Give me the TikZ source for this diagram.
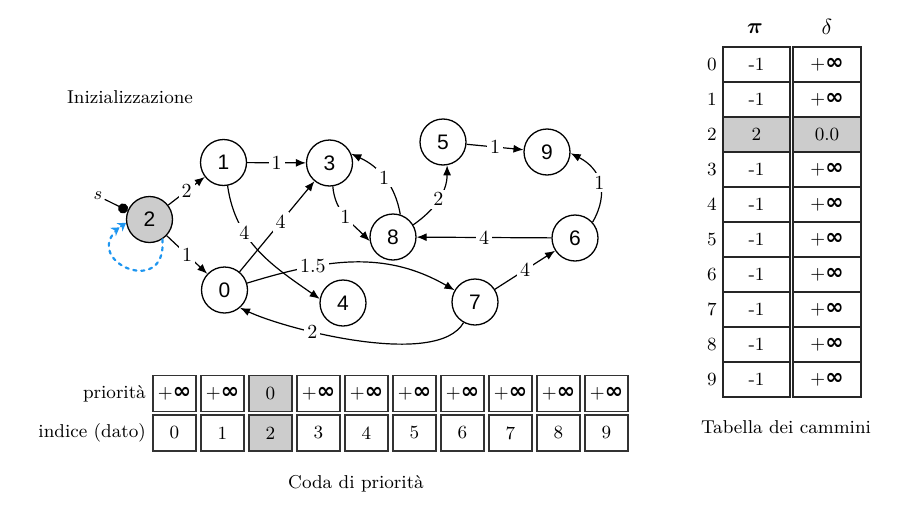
\documentclass[tikz,border=0pt]{standalone}
\usepackage{amsmath}
\usepackage{fontspec}
\newfontfamily\nodefont{Liberation Sans}
\newfontfamily\inffont{DejaVu Sans}
\usetikzlibrary{arrows.meta}
\definecolor{loopblue}{RGB}{30,150,240}
\newcommand{\pinf}{+{\inffont\bfseries\fontsize{11}{11}\selectfont ∞}}

\tikzset{
  every node/.append style={font=\fontsize{9.3}{11}\selectfont},
  vertex/.style={circle, draw, line width=0.65pt, minimum size=23pt, inner sep=0pt, font=\nodefont\fontsize{10.5}{10.5}\selectfont},
  srcvertex/.style={vertex, fill=black!20},
  edge/.style={-{Latex[length=5pt,width=4pt]}, line width=0.6pt},
  wlabel/.style={fill=white, inner sep=1.5pt, font=\fontsize{10}{11}\selectfont},
  qcell/.style={draw=black!80, line width=0.8pt, minimum width=21.5pt, minimum height=18pt, inner sep=0pt},
  tcell/.style={draw=black!85, line width=0.8pt, minimum width=33.5pt, minimum height=17.5pt, inner sep=0pt},
  selfloop/.style={loopblue, line width=1.1pt, dash pattern=on 1.6pt off 2.4pt, line cap=round,
    -{Stealth[length=4pt,width=5pt]Stealth[length=4pt,width=5pt]}}
}

\begin{document}
\begin{tikzpicture}[x=0.5pt,y=0.5pt]
\useasboundingbox (0,0) rectangle (903,521);

\node[anchor=west] (title) at (60,424) {Inizializzazione};

% graph
\node[srcvertex] (n2) at (149.5,301.5) {2};
\node[vertex] (n1) at (223.5,358.5) {1};
\node[vertex] (n3) at (329.5,358) {3};
\node[vertex] (n5) at (443,379) {5};
\node[vertex] (n9) at (547,369) {9};
\node[vertex] (n8) at (393,284) {8};
\node[vertex] (n6) at (575,283) {6};
\node[vertex] (n0) at (224.5,231) {0};
\node[vertex] (n4) at (343,218) {4};
\node[vertex] (n7) at (475,219) {7};

\node[inner sep=1pt] (s) at (98,325) {$s$};
\draw[line width=0.6pt, -{Circle[length=5pt]}] (s) -- (n2.158);
\draw[selfloop] (n2.-57) .. controls +(-85:62) and +(-145:62) .. (n2.-172);

\draw[edge] (n2) -- node[wlabel]{2} (n1);
\draw[edge] (n2) -- node[wlabel]{1} (n0);
\draw[edge] (n1) -- node[wlabel]{1} (n3);
\draw[edge] (n0) -- node[wlabel,pos=0.55]{4} (n3);
\draw[edge] (n1.-80) to[out=-82,in=145] node[wlabel,pos=0.33]{4} (n4.170);
\draw[edge] (n0) to[out=17,in=150] node[wlabel,pos=0.3]{1.5} (n7);
\draw[edge] (n3.-82) to[out=-85,in=135] node[wlabel]{1} (n8.-170);
\draw[edge] (n8.72) to[out=100,in=-25] node[wlabel]{1} (n3.23);
\draw[edge] (n8.31) to[out=35,in=-90] node[wlabel]{2} (n5.-80);
\draw[edge] (n5) -- node[wlabel]{1} (n9);
\draw[edge] (n6.42) to[out=60,in=-27,looseness=1.2] node[wlabel]{1} (n9.-3);
\draw[edge] (n6) -- node[wlabel]{4} (n8);
\draw[edge] (n7) -- node[wlabel]{4} (n6);
\draw[edge] (n7.-119) to[out=-120,in=-25,looseness=0.6] node[wlabel,pos=0.67]{2} (n0.-49);

% coda di priorita
\foreach \i/\p/\f in {0/\pinf/white, 1/\pinf/white, 2/0/black!20, 3/\pinf/white, 4/\pinf/white,
                      5/\pinf/white, 6/\pinf/white, 7/\pinf/white, 8/\pinf/white, 9/\pinf/white} {
  \node[qcell, fill=\f] (p\i) at ({174.5+48*\i},127.5) {\p};
  \node[qcell, fill=\f] (d\i) at ({174.5+48*\i},88) {\i};
}
\node[anchor=east, inner sep=0pt, xshift=-3pt] (plab) at (p0.west) {priorità};
\node[anchor=east, inner sep=0pt, xshift=-3pt] (dlab) at (d0.west) {indice (dato)};
\node (qcap) at (356,37) {Coda di priorità};

% tabella dei cammini
\node (pihead) at (755,492) {\fontsize{10.5}{10}\selectfont$\boldsymbol{\pi}$};
\node (dehead) at (827,494) {\fontsize{10.5}{10}\selectfont$\delta$};
\foreach \r/\pv/\dv/\f in {0/-1/\pinf/white, 1/-1/\pinf/white, 2/2/0.0/black!20, 3/-1/\pinf/white,
                           4/-1/\pinf/white, 5/-1/\pinf/white, 6/-1/\pinf/white, 7/-1/\pinf/white,
                           8/-1/\pinf/white, 9/-1/\pinf/white} {
  \node[tcell, fill=\f] (pi\r) at (756.5,{456.5-35*\r}) {\pv};
  \node[tcell, fill=\f, minimum width=34pt] (de\r) at (827,{456.5-35*\r}) {\dv};
  \node (row\r) at (712,{456.5-35*\r}) {\r};
}
\node (tcap) at (786,94) {Tabella dei cammini};
\end{tikzpicture}
\end{document}
